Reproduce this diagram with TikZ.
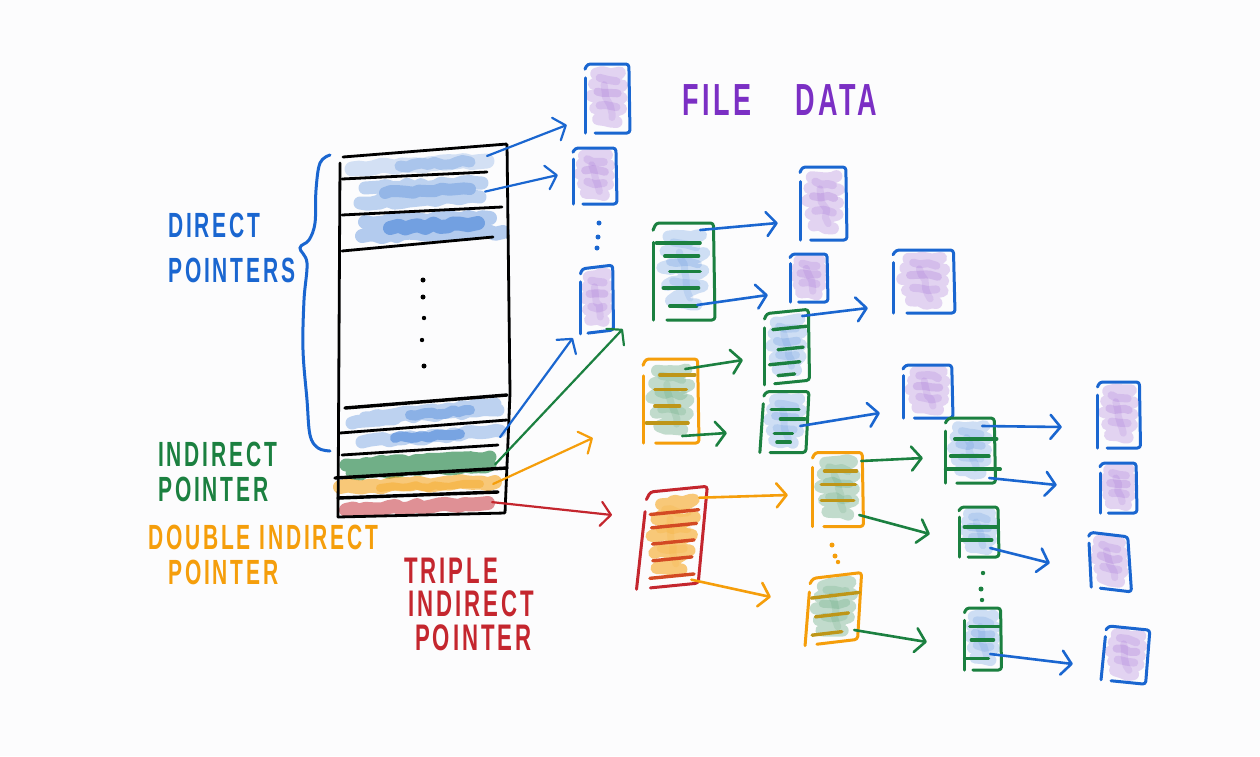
\documentclass[tikz,border=0pt]{standalone}
\usepackage{fontspec}
\usepackage{tikz}
\usetikzlibrary{arrows.meta,decorations.pathmorphing}
\newfontfamily\hand[LetterSpace=8,FakeStretch=0.6]{Liberation Sans Bold}
\definecolor{inkblue}{HTML}{1A66D0}
\definecolor{inkgreen}{HTML}{1B8040}
\definecolor{inkorange}{HTML}{F59E0B}
\definecolor{inkred}{HTML}{C4262E}
\definecolor{inkpurple}{HTML}{7B2FC4}
\definecolor{paper}{HTML}{FCFCFD}
\tikzset{
  %Define standard arrow tip
  >={Straight Barb[round,length=10pt,width=24pt]},
  %Define style for invisible block and row frames
  slot/.style={
    rectangle,
    inner sep=0pt,
    minimum height=10pt},
  %Define style for crayon scribbles
  hatch/.style={
    line cap=round,
    line join=round,
    line width=12pt,
    opacity=.2,
    decorate,
    decoration={random steps,segment length=7pt,amplitude=2pt}},
  basehatch/.style={opacity=.2},
  %Define style for outlines and rulings
  edging/.style={
    line width=3pt,
    line cap=round,
    line join=round,
    rounded corners=3pt},
  ruling/.style={
    line width=3.4pt,
    line cap=round},
  % Define arrow style
  pil/.style={
    ->,
    line width=2.6pt,
    line cap=round},
  tablerule/.style={
    line width=2.8pt,
    line cap=round,
    black},
  label/.style={
    anchor=west,
    inner sep=0pt,
    align=left}
}
% name, x, y, width, height, scope options
\newcommand{\sketchbox}[6]{
  \node[slot,minimum width=#4,minimum height=#5] (#1) at (#2,#3) {};
  \begin{scope}[shift={(#2,#3)},#6,xscale=#4/2,yscale=#5/2]
    \draw[hatch,basehatch,draw=fillink] (-.5,-.72) -- (.55,-.75) -- (-.6,-.42) -- (.65,-.38)
      -- (-.7,-.08) -- (.62,-.02) -- (-.55,.28) -- (.6,.3) -- (-.42,.6) -- (.4,.68);
    \draw[hatch,draw=fillink,line width=8pt,opacity=.13] (-.35,-.6) -- (.4,-.5);
    \draw[hatch,draw=fillink,line width=8pt,opacity=.16] (-.45,-.2) -- (.45,-.15);
    \draw[hatch,draw=fillink,line width=8pt,opacity=.13] (-.35,.2) -- (.4,.25);
    \draw[hatch,draw=fillink,line width=7pt,opacity=.1] (-.15,-.4) -- (.2,.55);
    \draw[edging,draw=edgeink] (-1,-.85) -- (-.9,-1) -- (.95,-1) -- (1,1) -- (-.55,1);
    \draw[edging,draw=edgeink] (-1,-.6) -- (-1,1);
  \end{scope}
}
% same, with the rulings of a block of pointers as left/right/y
\newcommand{\ptrbox}[7]{
  \sketchbox{#1}{#2}{#3}{#4}{#5}{#6}
  \begin{scope}[shift={(#2,#3)},#6,xscale=#4/2,yscale=#5/2]
    \foreach \lft/\rgt/\ypos in {#7} {
      \draw[ruling,draw=rowink] (\lft,\ypos) -- (\rgt,\ypos);
    }
  \end{scope}
}
\newcommand{\inkset}[3]{\colorlet{edgeink}{#1}\colorlet{fillink}{#2}\colorlet{rowink}{#3}}

\begin{document}
\begin{tikzpicture}[x=1pt,y=-1pt]
  \pgfmathsetseed{7}
  \useasboundingbox (0,0) rectangle (1260,756);
  \fill[paper] (0,0) rectangle (1260,756);

  % scribbles of the table rows
  \draw[hatch,draw=inkblue,line width=15pt,opacity=.18] (352,169) -- (487,161);
  \draw[hatch,draw=inkblue,line width=11pt,opacity=.22] (400,166) -- (470,162);
  \draw[hatch,draw=inkblue,line width=13pt,opacity=.28] (365,188) -- (482,183) -- (360,203) -- (480,197);
  \draw[hatch,draw=inkblue,line width=12pt,opacity=.25] (385,193) -- (470,189);
  \draw[hatch,draw=inkblue,line width=14pt,opacity=.32] (365,222) -- (490,218) -- (362,236) -- (503,232);
  \draw[hatch,draw=inkblue,line width=14pt,opacity=.42] (390,228) -- (478,223);
  \draw[hatch,draw=inkblue,line width=13pt,opacity=.28] (352,423) -- (495,404) -- (365,418) -- (498,410);
  \draw[hatch,draw=inkblue,line width=10pt,opacity=.3] (410,415) -- (470,410);
  \draw[hatch,draw=inkblue,line width=13pt,opacity=.28] (362,442) -- (500,431);
  \draw[hatch,draw=inkblue,line width=10pt,opacity=.42] (395,438) -- (460,434);
  \draw[hatch,draw=inkgreen,line width=13pt,opacity=.62] (346,465) -- (490,457) -- (352,473) -- (490,465);
  \draw[hatch,draw=inkorange,line width=14pt,opacity=.55] (340,487) -- (495,482);
  \draw[hatch,draw=inkorange,line width=8pt,opacity=.35] (380,488) -- (480,484);
  \draw[hatch,draw=inkred,line width=14pt,opacity=.5] (346,510) -- (488,503);

  % the table
  \draw[tablerule,rounded corners=1pt] (343,157) -- (507,144) -- (510,393) -- (505,513) -- (338,517);
  \draw[tablerule] (340,163) -- (338,517);
  \draw[tablerule] (342,179) -- (487,172);
  \draw[tablerule] (342,215) -- (502,207);
  \draw[tablerule] (342,251) -- (493,237);
  \draw[tablerule,line width=3.4pt] (345,408) -- (507,395);
  \draw[tablerule] (340,433) -- (507,420);
  \draw[tablerule] (342,455) -- (498,445);
  \draw[tablerule,line width=3.4pt] (335,478) -- (507,468);
  \draw[tablerule,line width=3.4pt] (338,498) -- (498,492);
  \fill (423,280) circle (2.5);
  \fill (423,297) circle (2.5);
  \fill (424,318) circle (2.2);
  \fill (422,340) circle (2.2);
  \fill (424,366) circle (2.5);

  % rows that have a pointer coming out
  \node[slot,minimum width=144,rotate=4] (dira) at (415,161) {};
  \node[slot,minimum width=130,rotate=3] (dirb) at (420,195) {};
  \node[slot,minimum width=150,rotate=3] (dire) at (425,441) {};
  \node[slot,minimum width=150,rotate=2] (indir) at (420,467) {};
  \node[slot,minimum width=156,rotate=1.5] (dbl) at (415,486) {};
  \node[slot,minimum width=148,rotate=3] (tpl) at (418,506) {};

  % brace
  \draw[inkblue,line width=3pt,line cap=round] plot[smooth,tension=.6] coordinates
    {(330,155) (320,163) (316,190) (315,223) (309,240) (300,248) (307,263) (304,300) (303,350) (307,400) (310,435) (318,448) (330,451)};

  % file data
  \inkset{inkblue}{inkpurple}{inkblue}
  \sketchbox{da}{607.5}{98.5}{45}{69}{}
  \sketchbox{db}{595}{176}{44}{56}{}
  \sketchbox{dc}{597}{299.5}{33}{65}{yslant=.12}
  \sketchbox{dd}{823.5}{203.5}{47}{73}{}
  \sketchbox{de}{809}{278}{38}{48}{}
  \sketchbox{df}{924}{281.5}{62}{63}{}
  \sketchbox{dg}{928}{391.5}{50}{53}{}
  \sketchbox{dh}{1119}{415}{43}{66}{}
  \sketchbox{di}{1118.5}{488}{37}{50}{}
  \sketchbox{dj}{1110}{562}{40}{55}{xslant=-.05,yslant=-.12}
  \sketchbox{dk}{1126}{655}{45}{54}{xslant=.1,yslant=-.1}
  \fill[inkblue] (599,223) circle (2.5);
  \fill[inkblue] (598,237) circle (2.5);
  \fill[inkblue] (597,248) circle (2.5);

  % pointers to data
  \inkset{inkgreen}{inkblue}{inkgreen}
  \ptrbox{ga}{684}{271.5}{62}{97}{}{-.89/.52/-.59,-.62/.47/-.32,-.46/.52/0,-.67/.47/.34,-.46/.41/.71}
  \ptrbox{gb}{787}{347}{45}{71}{yslant=.1}{-.63/.87/-.53,-.4/.72/.05,-.78/.57/.45,-.4/.34/.78}
  \ptrbox{gc}{785}{422}{46}{61}{xslant=.07}{-.64/.57/-.42,-.21/.86/-.1,-.43/.36/.38,-.29/.29/.66}
  \ptrbox{gd}{970.5}{450.6}{50}{65}{}{-.63/1.05/-.36,-.8/.74/.17,-1/1.19/.57}
  \ptrbox{ge}{979}{532}{40}{50}{}{-.74/.9/-.2,-.9/.64/.32}
  \ptrbox{gf}{983}{639}{37}{62}{}{-.72/.94/-.41,-.63/.57/.03,-1/.3/.62}
  \fill[inkgreen] (983,573) circle (2.2);
  \fill[inkgreen] (981,589) circle (2.5);
  \fill[inkgreen] (982,600) circle (2.2);

  % pointers to pointers
  \tikzset{basehatch/.style={opacity=.26}}
  \inkset{inkorange}{inkgreen}{inkorange!75!inkgreen}
  \ptrbox{oa}{671}{401}{56}{84}{}{-.4/.85/-.62,-.58/.55/-.28,-.58/.31/.12,-.88/.61/.52}
  \ptrbox{ob}{838}{489.5}{51}{74}{}{-.53/.73/-.5,-.66/.69/-.14,-.66/.62/.29}
  \ptrbox{oc}{834}{609}{52}{67}{xslant=.08,yslant=.12}{-.9/.93/-.41,-.69/.57/.17,-.76/.37/.71}
  \fill[inkorange] (832,545) circle (2.5);
  \fill[inkorange] (835,556) circle (2.5);
  \fill[inkorange] (838,562) circle (2.2);

  \tikzset{basehatch/.style={opacity=.55}}
  \inkset{inkred}{inkorange}{inkred!70!inkorange}
  \ptrbox{ra}{672.7}{537.7}{61}{97}{xslant=.11,yslant=.1}{-.82/.75/-.53,-.73/.73/-.25,-.64/.71/.09,-.57/.7/.44,-.6/.83/.8}

  % arrows out of the table
  \draw[pil,inkblue,line width=2.2pt] (dira.east) -- ([shift={(-18,26.5)}]da.west);
  \draw[pil,inkblue,line width=2.2pt] (dirb.east) -- ([shift={(-15,-1)}]db.west);
  \draw[pil,inkblue,line width=2.2pt] (dire.east) -- ([shift={(-7.5,38.5)}]dc.west);
  \draw[pil,inkgreen,line width=2.2pt] (indir.east) -- ([shift={(-30,57.5)}]ga.west);
  \draw[pil,inkorange,line width=2.2pt] (dbl.east) -- ([shift={(-50,37)}]oa.west);
  \draw[pil,inkred,line width=2.2pt] (tpl.east) -- ([shift={(-30,-22.7)}]ra.west);

  % arrows between the blocks
  \draw[pil,inkblue] ([shift={(-15,-41.5)}]ga.east) -- ([shift={(-22,19.5)}]dd.west);
  \draw[pil,inkblue] ([shift={(-18,33.5)}]ga.east) -- ([shift={(-22,17)}]de.west);
  \draw[pil,inkblue] ([shift={(-7.5,-31)}]gb.east) -- ([shift={(-25,26.5)}]df.west);
  \draw[pil,inkblue] ([shift={(-8,4)}]gc.east) -- ([shift={(-23,21.5)}]dg.west);
  \draw[pil,inkblue] ([shift={(-13.5,-24.6)}]gd.east) -- ([shift={(-35.5,12)}]dh.west);
  \draw[pil,inkblue] ([shift={(-6.5,27.4)}]gd.east) -- ([shift={(-43,-3)}]di.west);
  \draw[pil,inkblue] ([shift={(-9,16)}]ge.east) -- ([shift={(-40,1)}]dj.west);
  \draw[pil,inkblue] ([shift={(-11.5,15)}]gf.east) -- ([shift={(-30.5,9)}]dk.west);
  \draw[pil,inkgreen] ([shift={(-14,-32)}]oa.east) -- ([shift={(-21.5,13)}]gb.west);
  \draw[pil,inkgreen] ([shift={(-17,35)}]oa.east) -- ([shift={(-35,11)}]gc.west);
  \draw[pil,inkgreen] ([shift={(-2.5,-28.5)}]ob.east) -- ([shift={(-22.5,7.4)}]gd.west);
  \draw[pil,inkgreen] ([shift={(-4.5,25.5)}]ob.east) -- ([shift={(-29,2)}]ge.west);
  \draw[pil,inkgreen] ([shift={(-6,21)}]oc.east) -- ([shift={(-37.5,3)}]gf.west);
  \draw[pil,inkorange] ([shift={(-4,-40)}]ra.east) -- ([shift={(-24.5,5.5)}]ob.west);
  \draw[pil,inkorange] ([shift={(-12,42)}]ra.east) -- ([shift={(-37,-12)}]oc.west);

  % labels
  \node[label,text=inkblue,font=\hand\fontsize{35}{45}\selectfont] (direct) at (168,248) {DIRECT\\POINTERS};
  \node[label,text=inkgreen,font=\hand\fontsize{35}{35}\selectfont] (indirect) at (158,472) {INDIRECT\\POINTER};
  \node[label,text=inkorange,font=\hand\fontsize{35}{35}\selectfont] (double) at (148,555) {DOUBLE INDIRECT\\\hspace*{20pt}POINTER};
  \node[label,text=inkred,font=\hand\fontsize{37}{33.5}\selectfont] (triple) at (404,604) {TRIPLE\\\hspace*{4pt}INDIRECT\\\hspace*{11pt}POINTER};
  \node[label,text=inkpurple,font=\hand\fontsize{45}{45}\selectfont] (filedata) at (682,100) {FILE\hspace{33pt} DATA};
\end{tikzpicture}
\end{document}
